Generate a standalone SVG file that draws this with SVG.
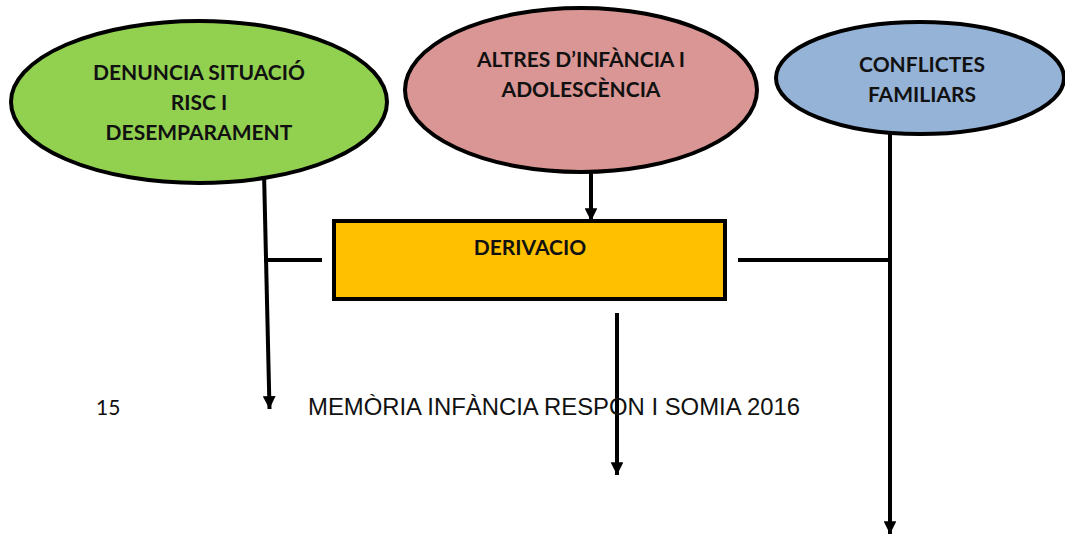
<svg xmlns="http://www.w3.org/2000/svg" width="1065" height="534" viewBox="0 0 1065 534">
<style>
.node{stroke:#000;stroke-width:4}
.lbl{font-family:Lato,"Open Sans","Liberation Sans",sans-serif;font-weight:700;font-size:21px;fill:#111;text-anchor:middle}
.ln{stroke:#000;stroke-width:4;fill:none}
.foot{font-family:"Liberation Sans",Arial,sans-serif;font-size:23.5px;fill:#111}
</style>
<defs>
<marker id="ah" viewBox="0 0 10 10" refX="10" refY="5" markerWidth="3.2" markerHeight="3.2" markerUnits="strokeWidth" orient="auto">
<path d="M0,0 L10,5 L0,10 Z" fill="#000"/>
</marker>
</defs>
<rect width="1065" height="534" fill="#fff"/>
<g id="connectors">
<line class="ln" x1="591" y1="173" x2="591" y2="221" marker-end="url(#ah)"/>
<line class="ln" x1="264" y1="172" x2="269.5" y2="409" marker-end="url(#ah)"/>
<line class="ln" x1="264" y1="260" x2="322" y2="260"/>
<line class="ln" x1="738" y1="260" x2="891" y2="260"/>
<line class="ln" x1="890" y1="120" x2="890" y2="534" marker-end="url(#ah)"/>
<line class="ln" x1="617" y1="313" x2="617" y2="475" marker-end="url(#ah)"/>
</g>
<g id="node-denuncia">
<ellipse class="node" cx="199" cy="102" rx="188" ry="81" fill="#92D050"/>
<text class="lbl" x="199" y="80">DENUNCIA SITUACIÓ</text>
<text class="lbl" x="199" y="110">RISC I</text>
<text class="lbl" x="199" y="140">DESEMPARAMENT</text>
</g>
<g id="node-altres">
<ellipse class="node" cx="581" cy="90" rx="176" ry="82" fill="#DA9694"/>
<text class="lbl" x="581" y="67">ALTRES D’INFÀNCIA I</text>
<text class="lbl" x="581" y="97">ADOLESCÈNCIA</text>
</g>
<g id="node-conflictes">
<ellipse class="node" cx="920" cy="78" rx="144" ry="56" fill="#95B3D7"/>
<text class="lbl" x="922" y="72">CONFLICTES</text>
<text class="lbl" x="922" y="102">FAMILIARS</text>
</g>
<g id="node-derivacio">
<rect class="node" x="334" y="221" width="391" height="78" fill="#FFC000"/>
<text class="lbl" x="530" y="255">DERIVACIO</text>
</g>
<g id="footer">
<text x="96" y="415" style="font-family:Lato,'Open Sans',sans-serif;font-size:21px;fill:#111">15</text>
<text class="foot" x="308" y="415" textLength="492" lengthAdjust="spacingAndGlyphs">MEMÒRIA INFÀNCIA RESPON I SOMIA 2016</text>
</g>
</svg>
